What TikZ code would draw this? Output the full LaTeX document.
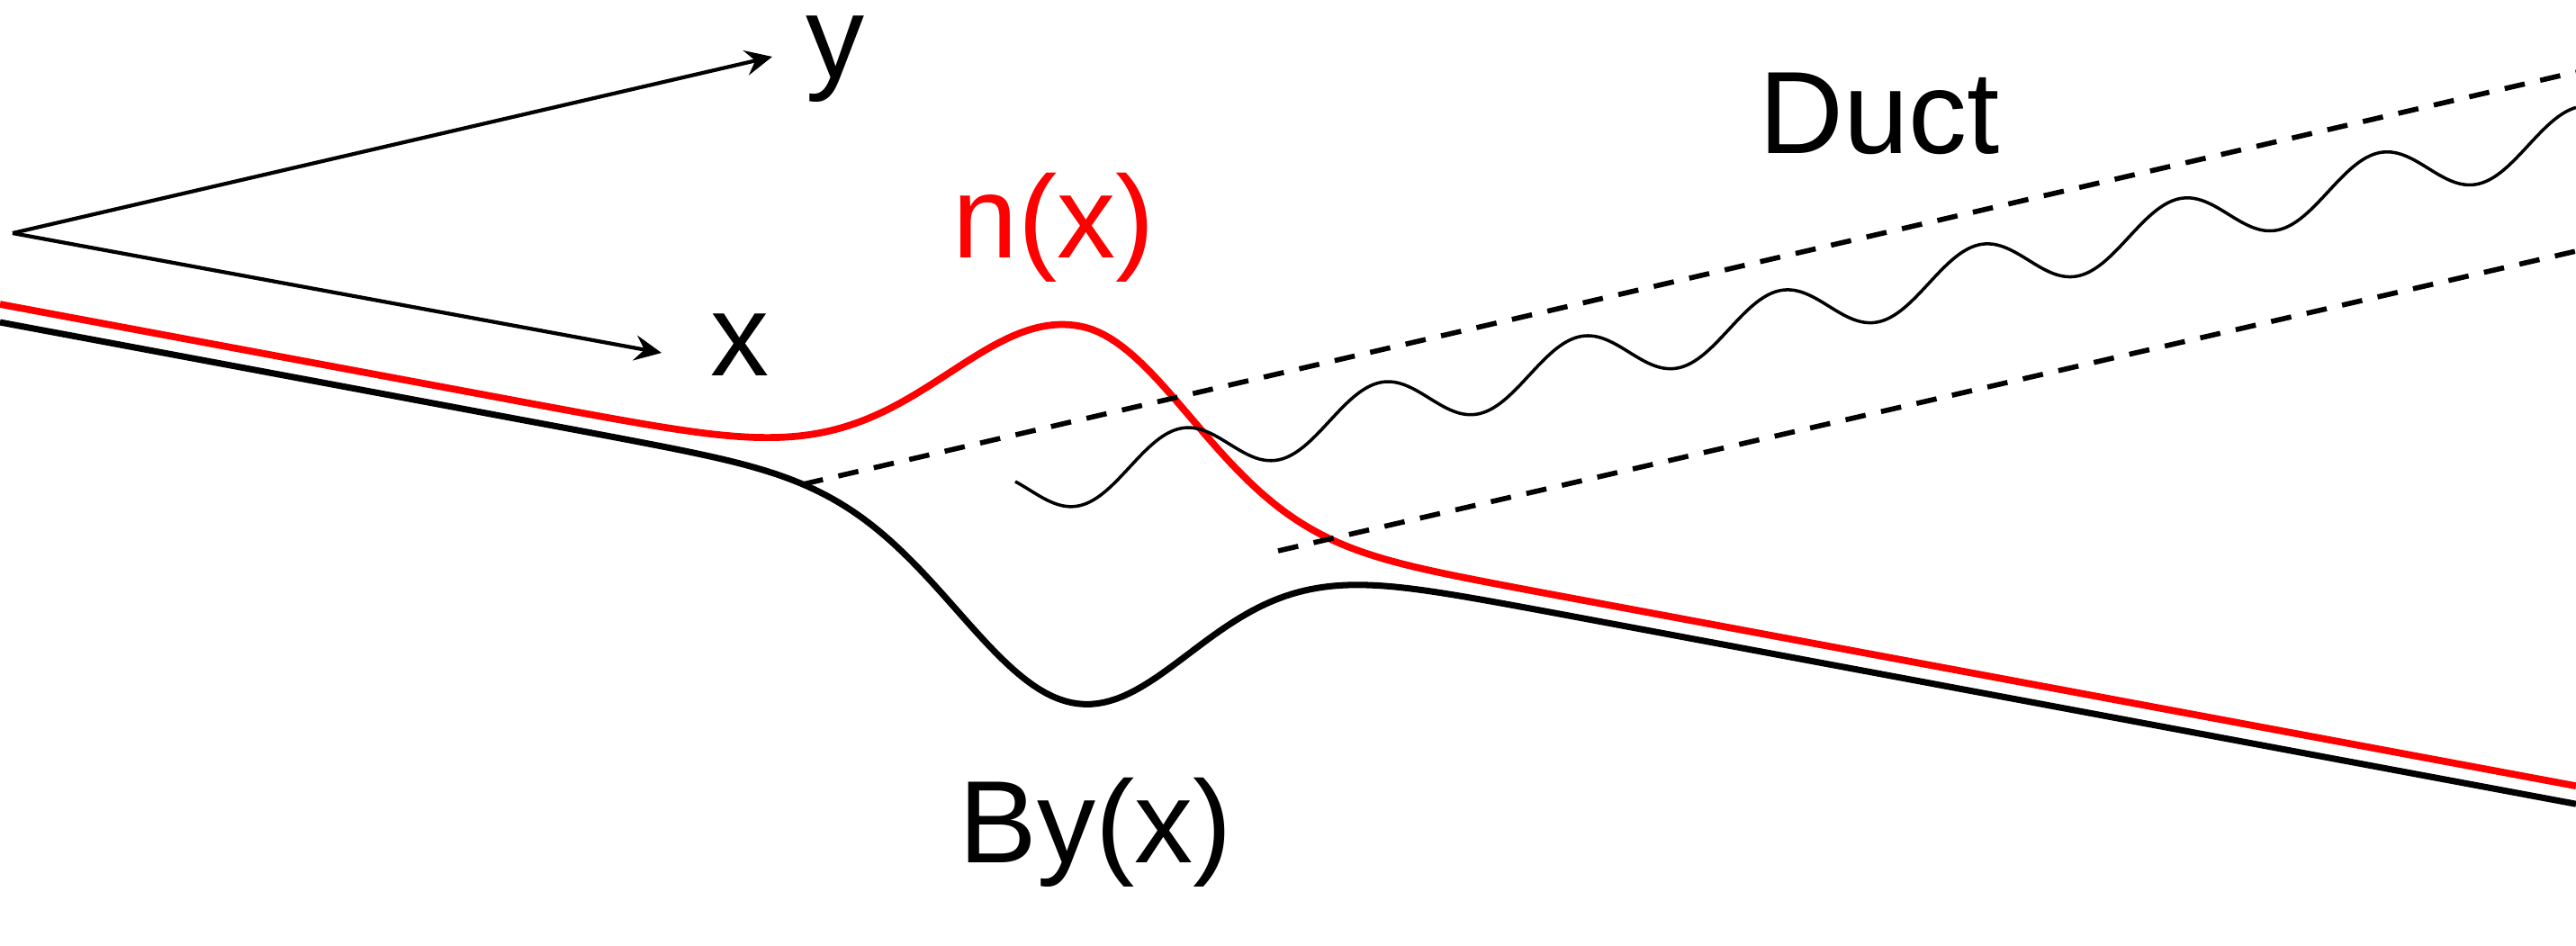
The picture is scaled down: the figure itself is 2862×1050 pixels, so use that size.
\documentclass[tikz,border=0pt]{standalone}
\usepackage{fontspec}
\setmainfont{Liberation Sans}
\usetikzlibrary{arrows.meta}
\begin{document}
\begin{tikzpicture}[x=0.01cm,y=-0.01cm,
 axis/.style={line width=1.2pt, -{Stealth[length=8.5pt,width=8pt,inset=3pt]}},
 ncurve/.style={red, line width=2.2pt},
 bcurve/.style={black, line width=2pt},
 ductline/.style={line width=1.6pt, dash pattern=on 6.5pt off 5pt},
 wave/.style={line width=1pt},
 lab/.style={anchor=base, inner sep=0pt, font=\fontsize{37}{44}\selectfont}]
\useasboundingbox (0,0) rectangle (2862,1050);
% axes
\coordinate (O) at (14,259);
\coordinate (ytip) at (858,63);
\coordinate (xtip) at (735,392);
\draw[axis] (O) -- (ytip);
\draw[axis] (O) -- (xtip);
\node[lab] (ylab) at (928,86) {y};
\node[lab] (xlab) at (822,417) {x};
% n(x) curve
\draw[ncurve] plot[domain=0:1200, samples=200] (\x, {338+0.187*\x-200*exp(max(-((\x-1200)/205)^2,-9))})
  -- plot[domain=1200:2862, samples=250] (\x, {338+0.187*\x-200*exp(max(-((\x-1200)/174)^2,-9))});
% By(x) curve
\draw[bcurve] plot[domain=0:2862, samples=400] (\x, {358+0.187*\x+200*exp(max(-((\x-1192)/182)^2,-9))});
% duct
\coordinate (d1a) at (892,538);
\coordinate (d1b) at (2862,80);
\coordinate (d2a) at (1420,612);
\coordinate (d2b) at (2862,279);
\draw[ductline] (d1a) -- (d1b);
\draw[ductline] (d2a) -- (d2b);
% wave
\draw[wave] plot[domain=1128:2862, samples=500] (\x, {391.3 - 0.23*(\x-1810) + 30*sin(0.0283*(\x-1810) r)});
% labels
\node[lab, text=red] (nlab) at (1171,286) {n(x)};
\node[lab] (duct) at (2088,170) {Duct};
\node[lab] (blab) at (1217,958) {By(x)};
\end{tikzpicture}
\end{document}
